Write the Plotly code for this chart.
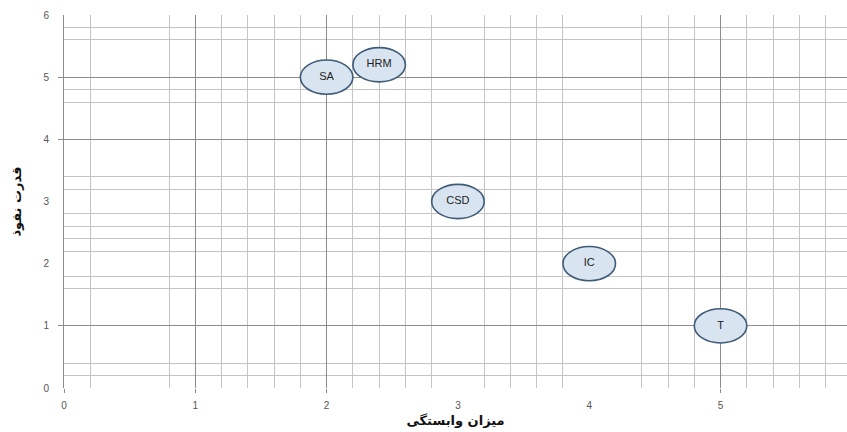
import plotly.graph_objects as go

# ---- data ----
labels = ["SA", "HRM", "CSD", "IC", "T"]
dependence = [2, 2.4, 3, 4, 5]      # x: میزان وابستگی
driving = [5, 5.2, 3, 2, 1]         # y: قدرت نفوذ

x_ticks = [0, 1, 2, 3, 4, 5, 6]
y_ticks = [0, 1, 2, 3, 4, 5, 6]
x_major_grid = [0, 1, 2, 5]
y_major_grid = [1, 4, 5]
x_minor_grid = [0.2, 0.8, 1.2, 1.4, 1.6, 1.8, 2.2, 2.4, 2.6, 2.8,
                3.2, 3.4, 3.6, 3.8, 4.4, 4.6, 4.8, 5.2, 5.4, 5.6, 5.8]
y_minor_grid = [0.2, 0.4, 1.6, 1.8, 2.2, 2.4, 2.6, 2.8, 3.2, 3.4,
                4.6, 4.8, 5.6, 5.8]

# bubble half sizes in data units (style)
half_w = 0.2
half_h = 0.275

x_range = [0, 5.963]
y_range = [0, 6]

fig = go.Figure()

fig.add_trace(go.Scatter(
    x=dependence, y=driving, mode="text", text=labels,
    textfont=dict(family="Liberation Sans, Arial", size=11, color="#222222"),
    showlegend=False, hoverinfo="x+y+text",
))
# invisible trace on overlay axes
fig.add_trace(go.Scatter(x=dependence, y=driving, xaxis="x2", yaxis="y2",
                         mode="markers", marker=dict(opacity=0),
                         showlegend=False, hoverinfo="skip"))

for xv, yv in zip(dependence, driving):
    fig.add_shape(type="circle", xref="x", yref="y",
                  x0=xv - half_w, x1=xv + half_w,
                  y0=yv - half_h, y1=yv + half_h,
                  fillcolor="#d9e4f1", line=dict(color="#3e5b79", width=1.6),
                  layer="between")

tick_font = dict(family="Liberation Sans, Arial", size=10, color="#555555")

fig.update_layout(
    width=847, height=432,
    margin=dict(l=64, r=0, t=15, b=44, autoexpand=False),
    paper_bgcolor="white", plot_bgcolor="white",
    showlegend=False,
    xaxis=dict(
        range=x_range, tickmode="array", tickvals=x_ticks,
        ticktext=[str(v) for v in x_ticks],
        showgrid=False, zeroline=False, showline=False, ticks="",
        tickfont=tick_font, ticklabelstandoff=10, automargin=False,
        minor=dict(tickmode="array", tickvals=x_minor_grid, showgrid=True,
                   gridcolor="#c4c4c4", gridwidth=1, ticks=""),
        title=dict(text="<b>میزان وابستگی</b>",
                   font=dict(family="DejaVu Sans", size=13, color="#111111"),
                   standoff=5),
    ),
    yaxis=dict(
        range=y_range, tickmode="array", tickvals=y_ticks,
        ticktext=[str(v) for v in y_ticks],
        showgrid=False, zeroline=False, showline=False, ticks="",
        tickfont=tick_font, ticklabelstandoff=14, automargin=False,
        minor=dict(tickmode="array", tickvals=y_minor_grid, showgrid=True,
                   gridcolor="#c4c4c4", gridwidth=1, ticks=""),
        title=dict(text="<b>قدرت نفوذ</b>",
                   font=dict(family="DejaVu Sans", size=13, color="#111111"),
                   standoff=18),
    ),
    xaxis2=dict(
        range=x_range, overlaying="x", tickmode="array", tickvals=x_major_grid,
        showticklabels=False, showgrid=True, gridcolor="#8c8c8c", gridwidth=1,
        zeroline=False, ticks="outside", ticklen=4, tickcolor="#8c8c8c",
        side="bottom", anchor="y2", automargin=False,
    ),
    yaxis2=dict(
        range=y_range, overlaying="y", tickmode="array", tickvals=y_major_grid,
        showticklabels=False, showgrid=True, gridcolor="#8c8c8c", gridwidth=1,
        zeroline=False, ticks="outside", ticklen=5, tickcolor="#8c8c8c",
        showline=True, linecolor="#8c8c8c", linewidth=1,
        side="left", anchor="x2", automargin=False,
    ),
)

fig.write_html(
    "out.html",
    config={"displayModeBar": False},
    post_script="document.body.style.margin='0';document.body.style.overflow='hidden';",
)
